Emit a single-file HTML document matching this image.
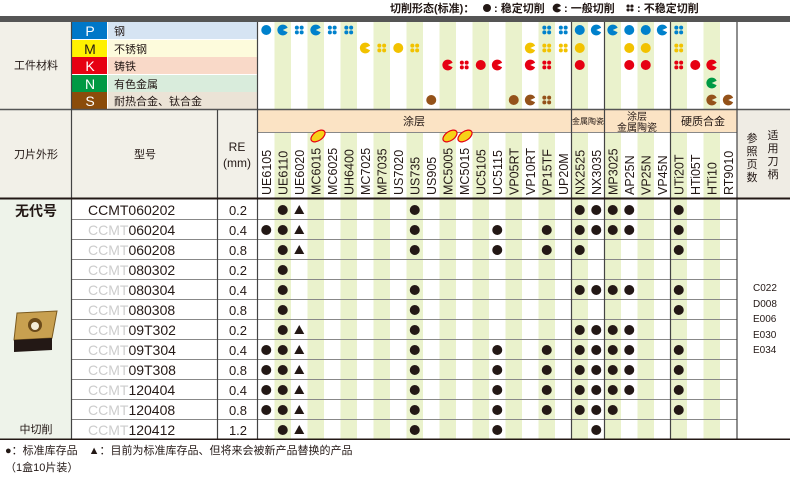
<!DOCTYPE html><html><head><meta charset="utf-8"><style>body{margin:0;background:#fff}svg{display:block;font-family:"Liberation Sans","Noto Sans CJK SC",sans-serif}</style></head><body>
<svg width="790" height="477" viewBox="0 0 790 477" xmlns="http://www.w3.org/2000/svg">
<defs>
<circle id="f" r="5"/>
<path id="c" d="M0 0 L4.9 -2.3 A5.4 5.4 0 1 0 4.9 2.3 Z"/>
<g id="s"><circle cx="-2.4" cy="-2.4" r="2"/><circle cx="2.4" cy="-2.4" r="2"/><circle cx="-2.4" cy="2.4" r="2"/><circle cx="2.4" cy="2.4" r="2"/></g>
<path id="t" d="M0 -5 L5 4 L-5 4 Z"/>
</defs>
<g font-size="11" font-weight="bold" fill="#231815">
<text x="390" y="12">切削形态(标准)：</text>
<text x="494" y="12">: 稳定切削</text>
<text x="564" y="12">: 一般切削</text>
<text x="637" y="12">: 不稳定切削</text>
</g>
<g fill="#231815"><circle cx="487" cy="8" r="4"/><path d="M557 8 L561 6 A4.4 4.4 0 1 0 561 10 Z"/><g transform="translate(630,8) scale(0.8)"><use href="#s"/></g></g>
<rect x="0" y="16" width="790" height="6" fill="#555"/>
<rect x="0" y="22" width="71" height="87" fill="#f2f0e8"/>
<rect x="0" y="110" width="71" height="88" fill="#f2f0e8"/>
<rect x="72" y="110" width="145" height="88" fill="#f2f0e8"/>
<rect x="218" y="110" width="39" height="88" fill="#f2f0e8"/>
<rect x="0" y="199" width="71" height="240" fill="#eef3ea"/>
<rect x="72" y="22" width="35" height="17" fill="#0077c8"/><rect x="108" y="22" width="149" height="17" fill="#d6e4f3"/>
<rect x="72" y="40" width="35" height="17" fill="#fff100"/><rect x="108" y="40" width="149" height="17" fill="#fdfbdc"/>
<rect x="72" y="57" width="35" height="17" fill="#e60012"/><rect x="108" y="57" width="149" height="17" fill="#f9d9c8"/>
<rect x="72" y="75" width="35" height="17" fill="#009944"/><rect x="108" y="75" width="149" height="17" fill="#d9ecdc"/>
<rect x="72" y="92" width="35" height="17" fill="#8b4c0a"/><rect x="108" y="92" width="149" height="17" fill="#ebe3d6"/>
<g font-size="14" text-anchor="middle" fill="#fff"><text x="90" y="36">P</text><text x="90" y="54" fill="#231815">M</text><text x="90" y="71">K</text><text x="90" y="89">N</text><text x="90" y="106">S</text></g>
<g font-size="11" fill="#231815"><text x="114" y="35">钢</text><text x="114" y="53">不锈钢</text><text x="114" y="70">铸铁</text><text x="114" y="88">有色金属</text><text x="114" y="105">耐热合金、钛合金</text></g>
<g fill="#eaf2cc">
<rect x="274.5" y="22" width="16.5" height="417"/><rect x="307.5" y="22" width="16.5" height="417"/><rect x="340.5" y="22" width="16.5" height="417"/><rect x="373.5" y="22" width="16.5" height="417"/><rect x="406.5" y="22" width="16.5" height="417"/><rect x="439.5" y="22" width="16.5" height="417"/><rect x="472.5" y="22" width="16.5" height="417"/><rect x="505.5" y="22" width="16.5" height="417"/><rect x="538.5" y="22" width="16.5" height="417"/><rect x="571.5" y="22" width="16.5" height="417"/><rect x="604.5" y="22" width="16.5" height="417"/><rect x="637.5" y="22" width="16.5" height="417"/><rect x="670.5" y="22" width="16.5" height="417"/><rect x="703.5" y="22" width="16.5" height="417"/>
</g>
<rect x="258" y="110" width="479" height="22" fill="#fbe3c4"/>
<rect x="737" y="110" width="53" height="88" fill="#efece4"/>
<g font-size="11" fill="#231815" text-anchor="middle">
<text x="414" y="125">涂层</text><text x="588" y="124" font-size="8">金属陶瓷</text>
<text x="637" y="120" font-size="10">涂层</text><text x="637" y="131" font-size="10">金属陶瓷</text>
<text x="703" y="125">硬质合金</text>
<text x="36" y="69">工件材料</text><text x="36" y="158">刀片外形</text><text x="145" y="158">型号</text>
<text x="237" y="151" font-size="12">RE</text><text x="237" y="167" font-size="12">(mm)</text>
<text x="752" y="142">参</text><text x="752" y="155">照</text><text x="752" y="168">页</text><text x="752" y="181">数</text>
<text x="773" y="139">适</text><text x="773" y="152">用</text><text x="773" y="165">刀</text><text x="773" y="178">柄</text>
</g>
<g stroke="#888" stroke-width="1">
<line x1="0" y1="109.5" x2="790" y2="109.5" stroke="#555" stroke-width="1.5"/>
<line x1="258" y1="132.5" x2="737" y2="132.5"/>
<line x1="72" y1="219.5" x2="737" y2="219.5"/><line x1="72" y1="239.5" x2="737" y2="239.5"/><line x1="72" y1="259.5" x2="737" y2="259.5"/><line x1="72" y1="279.5" x2="737" y2="279.5"/><line x1="72" y1="299.5" x2="737" y2="299.5"/><line x1="72" y1="319.5" x2="737" y2="319.5"/><line x1="72" y1="339.5" x2="737" y2="339.5"/><line x1="72" y1="359.5" x2="737" y2="359.5"/><line x1="72" y1="379.5" x2="737" y2="379.5"/><line x1="72" y1="399.5" x2="737" y2="399.5"/><line x1="72" y1="419.5" x2="737" y2="419.5"/>
</g>
<g stroke="#444" stroke-width="1.2">
<line x1="71.5" y1="22" x2="71.5" y2="439"/><line x1="217.5" y1="110" x2="217.5" y2="439"/><line x1="257.5" y1="22" x2="257.5" y2="439"/>
<line x1="571.5" y1="22" x2="571.5" y2="439"/><line x1="604.5" y1="22" x2="604.5" y2="439"/><line x1="670.5" y1="22" x2="670.5" y2="439"/><line x1="737" y1="22" x2="737" y2="439"/>
</g>
<rect x="0" y="197.5" width="790" height="2" fill="#231815"/><rect x="0" y="438.5" width="790" height="1.5" fill="#231815"/>
<g fill="#f7d117" stroke="#e60012" stroke-width="1.2"><ellipse cx="318" cy="136" rx="8" ry="4.5" transform="rotate(-35 318 136)"/><ellipse cx="450" cy="136" rx="8" ry="4.5" transform="rotate(-35 450 136)"/><ellipse cx="465" cy="136" rx="8" ry="4.5" transform="rotate(-35 465 136)"/></g>
<g font-size="12.5" fill="#231815">
<text transform="translate(271,195) rotate(-90)">UE6105</text><text transform="translate(287.5,195) rotate(-90)">UE6110</text><text transform="translate(304,195) rotate(-90)">UE6020</text><text transform="translate(320.5,195) rotate(-90)">MC6015</text><text transform="translate(337,195) rotate(-90)">MC6025</text><text transform="translate(353.5,195) rotate(-90)">UH6400</text><text transform="translate(370,195) rotate(-90)">MC7025</text><text transform="translate(386.5,195) rotate(-90)">MP7035</text><text transform="translate(403,195) rotate(-90)">US7020</text><text transform="translate(419.5,195) rotate(-90)">US735</text><text transform="translate(436,195) rotate(-90)">US905</text><text transform="translate(452.5,195) rotate(-90)">MC5005</text><text transform="translate(469,195) rotate(-90)">MC5015</text><text transform="translate(485.5,195) rotate(-90)">UC5105</text><text transform="translate(502,195) rotate(-90)">UC5115</text><text transform="translate(518.5,195) rotate(-90)">VP05RT</text><text transform="translate(535,195) rotate(-90)">VP10RT</text><text transform="translate(551.5,195) rotate(-90)">VP15TF</text><text transform="translate(568,195) rotate(-90)">UP20M</text><text transform="translate(584.5,195) rotate(-90)">NX2525</text><text transform="translate(601,195) rotate(-90)">NX3035</text><text transform="translate(617.5,195) rotate(-90)">MP3025</text><text transform="translate(634,195) rotate(-90)">AP25N</text><text transform="translate(650.5,195) rotate(-90)">VP25N</text><text transform="translate(667,195) rotate(-90)">VP45N</text><text transform="translate(683.5,195) rotate(-90)">UTi20T</text><text transform="translate(700,195) rotate(-90)">HTi05T</text><text transform="translate(716.5,195) rotate(-90)">HTi10</text><text transform="translate(733,195) rotate(-90)">RT9010</text>
</g>
<g fill="#0081cc"><use href="#f" x="266.25" y="30"/><use href="#c" x="282.75" y="30"/><use href="#s" x="299.25" y="30"/><use href="#c" x="315.75" y="30"/><use href="#s" x="332.25" y="30"/><use href="#s" x="348.75" y="30"/><use href="#s" x="546.75" y="30"/><use href="#s" x="563.25" y="30"/><use href="#f" x="579.75" y="30"/><use href="#c" x="596.25" y="30"/><use href="#c" x="612.75" y="30"/><use href="#f" x="629.25" y="30"/><use href="#f" x="645.75" y="30"/><use href="#c" x="662.25" y="30"/><use href="#s" x="678.75" y="30"/></g>
<g fill="#f2c200"><use href="#c" x="365.25" y="48"/><use href="#s" x="381.75" y="48"/><use href="#f" x="398.25" y="48"/><use href="#s" x="414.75" y="48"/><use href="#c" x="530.25" y="48"/><use href="#s" x="546.75" y="48"/><use href="#s" x="563.25" y="48"/><use href="#f" x="579.75" y="48"/><use href="#f" x="629.25" y="48"/><use href="#f" x="645.75" y="48"/><use href="#s" x="678.75" y="48"/></g>
<g fill="#e60012"><use href="#c" x="447.75" y="65"/><use href="#s" x="464.25" y="65"/><use href="#f" x="480.75" y="65"/><use href="#c" x="497.25" y="65"/><use href="#c" x="530.25" y="65"/><use href="#s" x="546.75" y="65"/><use href="#f" x="579.75" y="65"/><use href="#f" x="629.25" y="65"/><use href="#f" x="645.75" y="65"/><use href="#s" x="678.75" y="65"/><use href="#f" x="695.25" y="65"/><use href="#c" x="711.75" y="65"/></g>
<g fill="#009a44"><use href="#c" x="711.75" y="83"/></g>
<g fill="#94521a"><use href="#f" x="431.25" y="100"/><use href="#f" x="513.75" y="100"/><use href="#c" x="530.25" y="100"/><use href="#s" x="546.75" y="100"/><use href="#c" x="711.75" y="100"/><use href="#c" x="728.25" y="100"/></g>
<g font-size="14" fill="#231815">
<text x="88" y="215">CCMT060202</text>
<text x="88" y="235"><tspan fill="#ccc">CCMT</tspan>060204</text>
<text x="88" y="255"><tspan fill="#ccc">CCMT</tspan>060208</text>
<text x="88" y="275"><tspan fill="#ccc">CCMT</tspan>080302</text>
<text x="88" y="295"><tspan fill="#ccc">CCMT</tspan>080304</text>
<text x="88" y="315"><tspan fill="#ccc">CCMT</tspan>080308</text>
<text x="88" y="335"><tspan fill="#ccc">CCMT</tspan>09T302</text>
<text x="88" y="355"><tspan fill="#ccc">CCMT</tspan>09T304</text>
<text x="88" y="375"><tspan fill="#ccc">CCMT</tspan>09T308</text>
<text x="88" y="395"><tspan fill="#ccc">CCMT</tspan>120404</text>
<text x="88" y="415"><tspan fill="#ccc">CCMT</tspan>120408</text>
<text x="88" y="435"><tspan fill="#ccc">CCMT</tspan>120412</text>
</g>
<g font-size="13" fill="#231815" text-anchor="middle">
<text x="238" y="215">0.2</text><text x="238" y="235">0.4</text><text x="238" y="255">0.8</text><text x="238" y="275">0.2</text><text x="238" y="295">0.4</text><text x="238" y="315">0.8</text><text x="238" y="335">0.2</text><text x="238" y="355">0.4</text><text x="238" y="375">0.8</text><text x="238" y="395">0.4</text><text x="238" y="415">0.8</text><text x="238" y="435">1.2</text>
<text x="36" y="216" font-size="14" font-weight="bold">无代号</text>
<text x="36" y="433" font-size="11">中切削</text>
</g>
<path d="M17 313 L57 311 L52 338 L14 340 Z" fill="#c8a050" stroke="#7a5a20"/>
<path d="M14 340 L52 338 L52 350 L14 352 Z" fill="#231815"/>
<circle cx="35" cy="325" r="7" fill="#6b4a1a"/><circle cx="35" cy="326" r="4" fill="#f3ecd8"/>
<g font-size="10" fill="#231815"><text x="753" y="291">C022</text><text x="753" y="307">D008</text><text x="753" y="322">E006</text><text x="753" y="338">E030</text><text x="753" y="353">E034</text></g>
<g fill="#231815">
<use href="#f" x="282.75" y="210"/><use href="#t" x="299.25" y="210"/><use href="#f" x="414.75" y="210"/><use href="#f" x="579.75" y="210"/><use href="#f" x="596.25" y="210"/><use href="#f" x="612.75" y="210"/><use href="#f" x="629.25" y="210"/><use href="#f" x="678.75" y="210"/>
<use href="#f" x="266.25" y="230"/><use href="#f" x="282.75" y="230"/><use href="#t" x="299.25" y="230"/><use href="#f" x="414.75" y="230"/><use href="#f" x="497.25" y="230"/><use href="#f" x="546.75" y="230"/><use href="#f" x="579.75" y="230"/><use href="#f" x="596.25" y="230"/><use href="#f" x="612.75" y="230"/><use href="#f" x="629.25" y="230"/><use href="#f" x="678.75" y="230"/>
<use href="#f" x="282.75" y="250"/><use href="#t" x="299.25" y="250"/><use href="#f" x="414.75" y="250"/><use href="#f" x="497.25" y="250"/><use href="#f" x="546.75" y="250"/><use href="#f" x="579.75" y="250"/><use href="#f" x="678.75" y="250"/>
<use href="#f" x="282.75" y="270"/>
<use href="#f" x="282.75" y="290"/><use href="#f" x="414.75" y="290"/><use href="#f" x="579.75" y="290"/><use href="#f" x="596.25" y="290"/><use href="#f" x="612.75" y="290"/><use href="#f" x="629.25" y="290"/><use href="#f" x="678.75" y="290"/>
<use href="#f" x="282.75" y="310"/><use href="#f" x="414.75" y="310"/><use href="#f" x="678.75" y="310"/>
<use href="#f" x="282.75" y="330"/><use href="#t" x="299.25" y="330"/><use href="#f" x="414.75" y="330"/><use href="#f" x="579.75" y="330"/><use href="#f" x="596.25" y="330"/><use href="#f" x="612.75" y="330"/><use href="#f" x="629.25" y="330"/>
<use href="#f" x="266.25" y="350"/><use href="#f" x="282.75" y="350"/><use href="#t" x="299.25" y="350"/><use href="#f" x="414.75" y="350"/><use href="#f" x="497.25" y="350"/><use href="#f" x="546.75" y="350"/><use href="#f" x="579.75" y="350"/><use href="#f" x="596.25" y="350"/><use href="#f" x="612.75" y="350"/><use href="#f" x="629.25" y="350"/><use href="#f" x="678.75" y="350"/>
<use href="#f" x="266.25" y="370"/><use href="#f" x="282.75" y="370"/><use href="#t" x="299.25" y="370"/><use href="#f" x="414.75" y="370"/><use href="#f" x="497.25" y="370"/><use href="#f" x="546.75" y="370"/><use href="#f" x="579.75" y="370"/><use href="#f" x="596.25" y="370"/><use href="#f" x="612.75" y="370"/><use href="#f" x="629.25" y="370"/><use href="#f" x="678.75" y="370"/>
<use href="#f" x="266.25" y="390"/><use href="#f" x="282.75" y="390"/><use href="#t" x="299.25" y="390"/><use href="#f" x="414.75" y="390"/><use href="#f" x="497.25" y="390"/><use href="#f" x="546.75" y="390"/><use href="#f" x="579.75" y="390"/><use href="#f" x="596.25" y="390"/><use href="#f" x="612.75" y="390"/><use href="#f" x="629.25" y="390"/><use href="#f" x="678.75" y="390"/>
<use href="#f" x="266.25" y="410"/><use href="#f" x="282.75" y="410"/><use href="#t" x="299.25" y="410"/><use href="#f" x="414.75" y="410"/><use href="#f" x="497.25" y="410"/><use href="#f" x="546.75" y="410"/><use href="#f" x="579.75" y="410"/><use href="#f" x="596.25" y="410"/><use href="#f" x="612.75" y="410"/><use href="#f" x="678.75" y="410"/>
<use href="#f" x="282.75" y="430"/><use href="#t" x="299.25" y="430"/><use href="#f" x="414.75" y="430"/><use href="#f" x="497.25" y="430"/><use href="#f" x="596.25" y="430"/>
</g>
<g font-size="11" fill="#231815"><text x="5" y="454">●：标准库存品　▲：目前为标准库存品、但将来会被新产品替换的产品</text><text x="5" y="471">（1盒10片装）</text></g>
</svg>
</body></html>
